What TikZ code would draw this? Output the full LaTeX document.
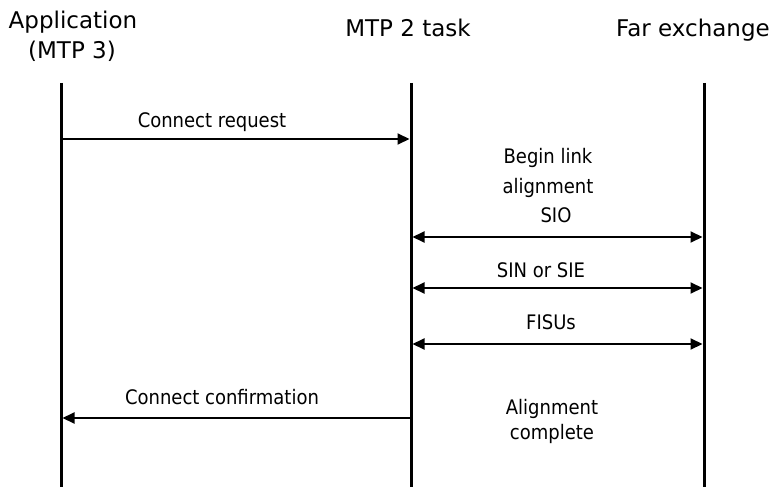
\documentclass[tikz,border=0pt]{standalone}
\usepackage{fontspec}
\setmainfont{DejaVu Sans}
\newfontfamily\condfont{DejaVu Sans Condensed}
\usetikzlibrary{arrows.meta}
\begin{document}
\begin{tikzpicture}[x=1pt,y=-1pt,
  lifeline/.style={line width=3pt},
  tip/.tip={Triangle[length=12pt,width=11pt]},
  msg/.style={line width=2pt,-tip},
  duplex/.style={line width=2pt,tip-tip},
  head/.style={font=\fontsize{23}{27}\selectfont,anchor=base,inner sep=0pt},
  lbl/.style={font=\condfont\fontsize{20}{24}\selectfont,anchor=base,inner sep=0pt}]
\useasboundingbox (0,0) rectangle (774,487);

% column headings
\node[head] (hApp)  at (73,29)  {Application};
\node[head] (hApp2) at (72,59)  {(MTP 3)};
\node[head] (hMtp)  at (408,37) {MTP 2 task};
\node[head] (hFar)  at (693,37) {Far exchange};

% lifelines
\coordinate (appTop) at (61,83);  \coordinate (appBot) at (61,487);
\coordinate (mtpTop) at (411,83); \coordinate (mtpBot) at (411,487);
\coordinate (farTop) at (704,83); \coordinate (farBot) at (704,487);
\draw[lifeline] (appTop) -- (appBot);
\draw[lifeline] (mtpTop) -- (mtpBot);
\draw[lifeline] (farTop) -- (farBot);

% message end points on the lifelines
\coordinate (reqA) at (61,139);  \coordinate (reqM) at (411,139);
\coordinate (sioM) at (411,237); \coordinate (sioF) at (704,237);
\coordinate (sinM) at (411,288); \coordinate (sinF) at (704,288);
\coordinate (fisM) at (411,344); \coordinate (fisF) at (704,344);
\coordinate (cnfM) at (411,418); \coordinate (cnfA) at (61,418);

% messages
\draw[msg,shorten >=1.5pt] (reqA) -- (reqM);
\node[lbl] (tReq) at (212,127) {Connect request};

\node[lbl] (tBegin) at (548,163) {Begin link};
\node[lbl] (tAlign) at (548,193) {alignment};
\node[lbl] (tSio)   at (556,222) {SIO};
\draw[duplex,shorten <=1.5pt,shorten >=1.5pt] (sioM) -- (sioF);

\node[lbl] (tSin) at (541,277) {SIN or SIE};
\draw[duplex,shorten <=1.5pt,shorten >=1.5pt] (sinM) -- (sinF);

\node[lbl] (tFis) at (551,329) {FISUs};
\draw[duplex,shorten <=1.5pt,shorten >=1.5pt] (fisM) -- (fisF);

\node[lbl] (tCnf) at (222,404) {Connect confirmation};
\draw[msg,shorten >=1.5pt] (cnfM) -- (cnfA);

\node[lbl] (tDone1) at (552,414) {Alignment};
\node[lbl] (tDone2) at (552,439) {complete};
\end{tikzpicture}
\end{document}
